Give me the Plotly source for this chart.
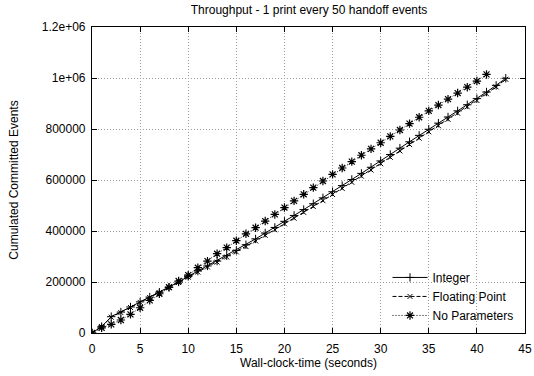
import plotly.graph_objects as go

t_int = list(range(0, 44))
integer = [0, 25000, 64000, 82000, 102000, 122000, 141000, 160000, 179000, 200000,
           222000, 243000, 263000, 282000, 303000, 324000, 346000, 369000, 392000, 414000,
           438000, 461000, 484000, 507000, 530000, 554000, 578000, 602000, 626000, 650000,
           675000, 700000, 725000, 750000, 775000, 799000, 823000, 847000, 871000, 895000,
           919000, 945000, 971000, 999000]

t_flt = list(range(0, 44))
floating = [0, 25000, 62000, 80000, 100000, 120000, 139000, 158000, 178000, 198000,
            219000, 239000, 259000, 278000, 298000, 318000, 339000, 361000, 383000, 405000,
            428000, 450000, 473000, 496000, 519000, 543000, 567000, 591000, 615000, 639000,
            664000, 689000, 714000, 739000, 764000, 789000, 813000, 838000, 862000, 887000,
            912000, 938000, 965000, 995000]

t_nop = list(range(0, 42))
noparams = [0, 20000, 34000, 51000, 73000, 99000, 128000, 154000, 180000, 204000,
            227000, 256000, 282000, 311000, 335000, 362000, 389000, 413000, 439000, 465000,
            492000, 518000, 544000, 570000, 596000, 622000, 647000, 672000, 697000, 722000,
            746000, 771000, 796000, 821000, 846000, 871000, 894000, 917000, 941000, 964000,
            988000, 1014000]

x_ticks = [0, 5, 10, 15, 20, 25, 30, 35, 40, 45]
y_ticks = [0, 200000, 400000, 600000, 800000, 1000000, 1200000]
y_labels = ["0", "200000", "400000", "600000", "800000", "1e+06", "1.2e+06"]

FONT = "Liberation Sans, Arial, Helvetica, sans-serif"

fig = go.Figure()
fig.add_trace(go.Scatter(x=t_int, y=integer, name="Integer", mode="lines+markers",
                         line=dict(color="black", width=1, dash="solid"),
                         marker=dict(symbol="cross-thin-open", size=6,
                                     line=dict(color="black", width=1))))
fig.add_trace(go.Scatter(x=t_flt, y=floating, name="Floating Point", mode="lines+markers",
                         line=dict(color="black", width=1, dash="4px,2px"),
                         marker=dict(symbol="x-thin-open", size=5,
                                     line=dict(color="black", width=1))))
fig.add_trace(go.Scatter(x=t_nop, y=noparams, name="No Parameters", mode="lines+markers",
                         line=dict(color="black", width=1, dash="1px,2px"),
                         marker=dict(symbol="asterisk-open", size=7,
                                     line=dict(color="black", width=1.2))))

axis_common = dict(showline=True, linecolor="black", linewidth=1.2, mirror="ticks",
                   ticks="inside", ticklen=5, tickcolor="black",
                   showgrid=True, gridcolor="#999999", griddash="1px,2px", gridwidth=1,
                   zeroline=False, automargin=False,
                   tickfont=dict(family=FONT, size=12, color="black"))

fig.update_layout(
    width=534, height=376,
    margin=dict(l=92, r=9, t=27, b=43),
    paper_bgcolor="white", plot_bgcolor="white",
    font=dict(family=FONT, size=12, color="black"),
    title=dict(text="Throughput - 1 print every 50 handoff events",
               x=0.5787, xanchor="center", y=0.985, yanchor="top",
               font=dict(family=FONT, size=12, color="black"),
               automargin=False),
    xaxis=dict(range=[0, 45], tickvals=x_ticks, ticktext=[str(v) for v in x_ticks],
               ticklabelstandoff=4,
               title=dict(text="Wall-clock-time (seconds)", standoff=4,
                          font=dict(family=FONT, size=12)), **axis_common),
    yaxis=dict(range=[0, 1200000], tickvals=y_ticks, ticktext=y_labels,
               ticklabelstandoff=3,
               title=dict(text="Cumulated Committed Events", standoff=20,
                          font=dict(family=FONT, size=12)), **axis_common),
    legend=dict(x=0.985, xanchor="right", y=0.01, yanchor="bottom",
                bgcolor="rgba(255,255,255,0)", borderwidth=0,
                font=dict(family=FONT, size=12), tracegroupgap=0,
                itemwidth=35),
    showlegend=True,
)

fig.write_html("out.html", config={"displayModeBar": False},
               post_script="document.body.style.margin='0';document.body.style.overflow='hidden';")
